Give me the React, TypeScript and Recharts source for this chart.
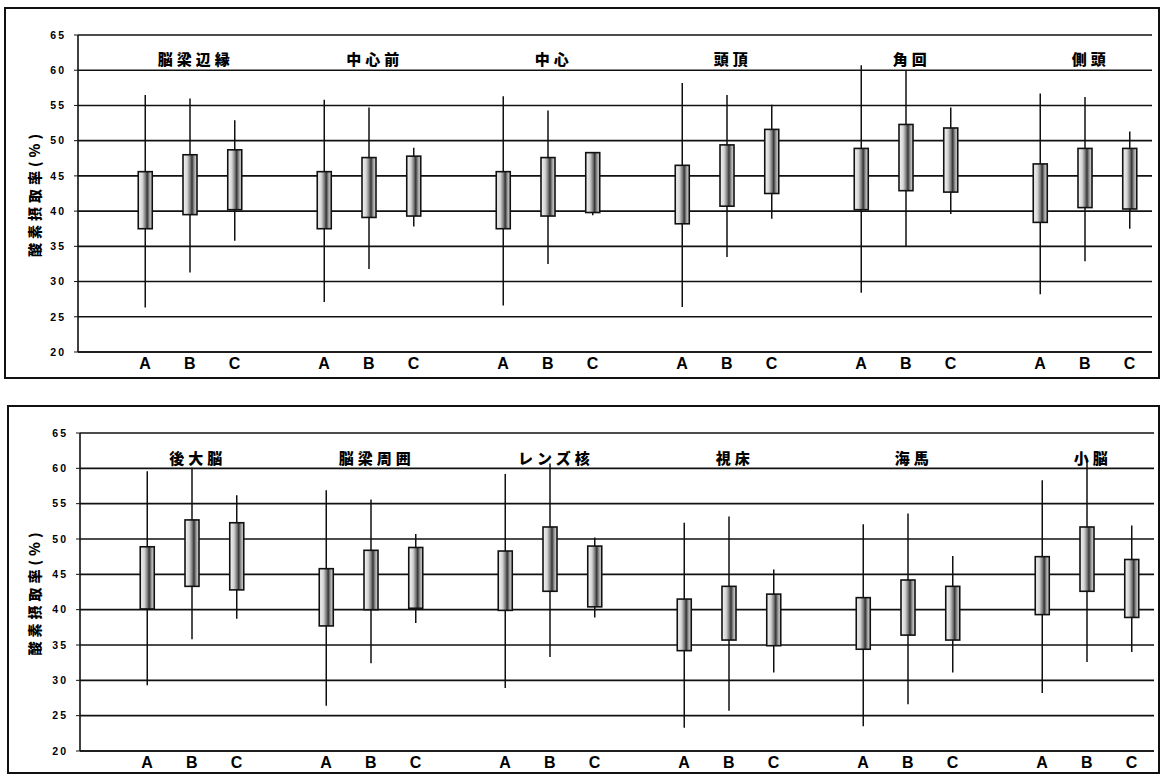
import React from 'react'
import { ComposedChart, Bar, XAxis, YAxis, CartesianGrid, ReferenceDot, Label } from 'recharts'

// Oxygen extraction fraction by region, groups A/B/C.
// Each mark: whisker = min..max, box = lower..upper.

const members = ['A', 'B', 'C']
const yTicks = [20, 25, 30, 35, 40, 45, 50, 55, 60, 65]
const yTitle = '酸素摂取率(%)'

const topGroups = ['脳梁辺縁', '中心前', '中心', '頭頂', '角回', '側頭']
const topHigh = [56.5, 56.0, 52.9, 55.8, 54.7, 49.0, 56.3, 54.3, 48.3, 58.2, 56.5, 55.1, 60.7, 59.9, 54.7, 56.7, 56.2, 51.3]
const topBoxHigh = [45.6, 48.0, 48.7, 45.6, 47.6, 47.8, 45.6, 47.6, 48.3, 46.5, 49.4, 51.6, 48.9, 52.3, 51.8, 46.7, 48.9, 48.9]
const topBoxLow = [37.5, 39.5, 40.2, 37.5, 39.1, 39.3, 37.5, 39.3, 39.8, 38.2, 40.7, 42.5, 40.2, 42.9, 42.7, 38.4, 40.5, 40.3]
const topLow = [26.3, 31.3, 35.8, 27.1, 31.8, 37.8, 26.6, 32.5, 39.4, 26.4, 33.5, 38.9, 28.4, 35.0, 39.6, 28.2, 32.9, 37.5]

const bottomGroups = ['後大脳', '脳梁周囲', 'レンズ核', '視床', '海馬', '小脳']
const bottomHigh = [59.6, 60.1, 56.2, 56.9, 55.6, 50.7, 59.2, 60.7, 50.2, 52.3, 53.2, 45.7, 52.1, 53.6, 47.6, 58.3, 61.4, 51.9]
const bottomBoxHigh = [48.9, 52.7, 52.3, 45.8, 48.4, 48.8, 48.3, 51.7, 49.0, 41.5, 43.3, 42.2, 41.7, 44.2, 43.3, 47.5, 51.7, 47.1]
const bottomBoxLow = [40.1, 43.3, 42.8, 37.7, 40.0, 40.2, 39.9, 42.6, 40.4, 34.2, 35.7, 34.9, 34.4, 36.4, 35.7, 39.3, 42.6, 38.9]
const bottomLow = [29.3, 35.8, 38.7, 26.4, 32.4, 38.1, 28.9, 33.3, 38.9, 23.3, 25.7, 31.1, 23.5, 26.6, 31.1, 28.2, 32.6, 34.0]

const TITLE_LEVEL = 61.6
const latin = '"Liberation Sans", Arial, sans-serif'
const cjk = '"Noto Sans CJK JP", sans-serif'

type Row = { key: string; range: [number, number] | null; boxLow?: number; boxHigh?: number }

function buildRows(groups: string[], hi: number[], boxHi: number[], boxLo: number[], lo: number[]): Row[] {
  const rows: Row[] = []
  groups.forEach((g, gi) => {
    // blank slot in front of each group
    rows.push({ key: `gap${gi}`, range: null })
    members.forEach((m, mi) => {
      const i = gi * 3 + mi
      rows.push({ key: `${g}|${m}`, range: [lo[i], hi[i]], boxLow: boxLo[i], boxHigh: boxHi[i] })
    })
  })
  return rows
}

function BoxShape(props: any) {
  const { x, y, width, height, payload } = props
  if (!payload || !payload.range) return null
  const [lo, hi] = payload.range
  const top = Math.min(y, y + height)
  const h = Math.abs(height)
  const unit = h / (hi - lo)
  const cx = x + width / 2
  const bTop = top + (hi - payload.boxHigh) * unit
  const bBot = top + (hi - payload.boxLow) * unit
  const bw = 14
  return (
    <g>
      <defs>
        <linearGradient id="boxShade" x1="0" y1="0" x2="1" y2="0">
          <stop offset="0%" stopColor="#f6f6f6" />
          <stop offset="30%" stopColor="#d4d4d4" />
          <stop offset="52%" stopColor="#777" />
          <stop offset="64%" stopColor="#333" />
          <stop offset="80%" stopColor="#9a9a9a" />
          <stop offset="100%" stopColor="#e2e2e2" />
        </linearGradient>
      </defs>
      <line x1={cx} x2={cx} y1={top} y2={top + h} stroke="#111" strokeWidth={1.5} />
      <rect x={cx - bw / 2} y={bTop} width={bw} height={bBot - bTop} fill="url(#boxShade)" stroke="#111" strokeWidth={1.6} />
    </g>
  )
}

function YTitle(props: any) {
  const { viewBox } = props
  const cx = viewBox.x + 34
  const cy = viewBox.y + viewBox.height / 2
  return (
    <text x={cx} y={cy} transform={`rotate(-90, ${cx}, ${cy})`} textAnchor="middle" dominantBaseline="central"
      fontFamily={cjk} fontWeight={900} fontSize={14} letterSpacing={4} fill="#000">
      {yTitle}
    </text>
  )
}

function Panel({ groups, rows, height, axisWidth, margin, xAxisHeight }: {
  groups: string[]; rows: Row[]; height: number; axisWidth: number
  margin: { top: number; right: number; bottom: number; left: number }; xAxisHeight: number
}) {
  return (
    <ComposedChart width={1162} height={height} data={rows} margin={margin} barCategoryGap={0}>
      <CartesianGrid vertical={false} stroke="#111" strokeWidth={1.6} strokeOpacity={1} />
      <XAxis
        dataKey="key"
        interval={0}
        height={xAxisHeight}
        tickLine={false}
        tickSize={0}
        tickMargin={6}
        axisLine={{ stroke: '#111', strokeWidth: 1.6 }}
        tickFormatter={(v: string) => (v.includes('|') ? v.split('|')[1] : '')}
        tick={{ fill: '#000', fontSize: 16, fontWeight: 700, fontFamily: latin }}
      />
      <YAxis
        domain={[20, 65]}
        ticks={yTicks}
        width={axisWidth}
        tickSize={4}
        tickMargin={8}
        tickLine={{ stroke: '#111' }}
        axisLine={{ stroke: '#111', strokeWidth: 1.6 }}
        tick={{ fill: '#000', fontSize: 10.5, fontWeight: 700, fontFamily: latin, letterSpacing: 2 }}
      >
        <Label content={<YTitle />} />
      </YAxis>
      <Bar dataKey="range" shape={<BoxShape />} isAnimationActive={false} />
      {groups.map((g) => (
        <ReferenceDot
          key={g}
          x={`${g}|B`}
          y={TITLE_LEVEL}
          r={0}
          shape={(p: any) => (
            <text x={p.cx + 6} y={p.cy} textAnchor="middle" dominantBaseline="central"
              fontFamily={cjk} fontWeight={900} fontSize={15} letterSpacing={4} fill="#000">
              {g}
            </text>
          )}
        />
      ))}
    </ComposedChart>
  )
}

export default function App() {
  const topRows = buildRows(topGroups, topHigh, topBoxHigh, topBoxLow, topLow)
  const bottomRows = buildRows(bottomGroups, bottomHigh, bottomBoxHigh, bottomBoxLow, bottomLow)
  return (
    <div style={{ position: 'absolute', left: 0, top: 0, width: 1162, height: 776, background: '#fff', overflow: 'hidden' }}>
      <div style={{ position: 'absolute', left: 4, top: 7, width: 1156, height: 372, border: '2px solid #111', boxSizing: 'border-box' }} />
      <div style={{ position: 'absolute', left: 7, top: 405, width: 1153, height: 369, border: '2px solid #111', boxSizing: 'border-box' }} />
      <div style={{ position: 'absolute', left: 0, top: 0 }}>
        <Panel groups={topGroups} rows={topRows} height={388} axisWidth={78}
          margin={{ top: 35, right: 10, bottom: 6, left: 0 }} xAxisHeight={30} />
      </div>
      <div style={{ position: 'absolute', left: 0, top: 398 }}>
        <Panel groups={bottomGroups} rows={bottomRows} height={378} axisWidth={80}
          margin={{ top: 35, right: 8, bottom: 3, left: 0 }} xAxisHeight={22} />
      </div>
    </div>
  )
}
